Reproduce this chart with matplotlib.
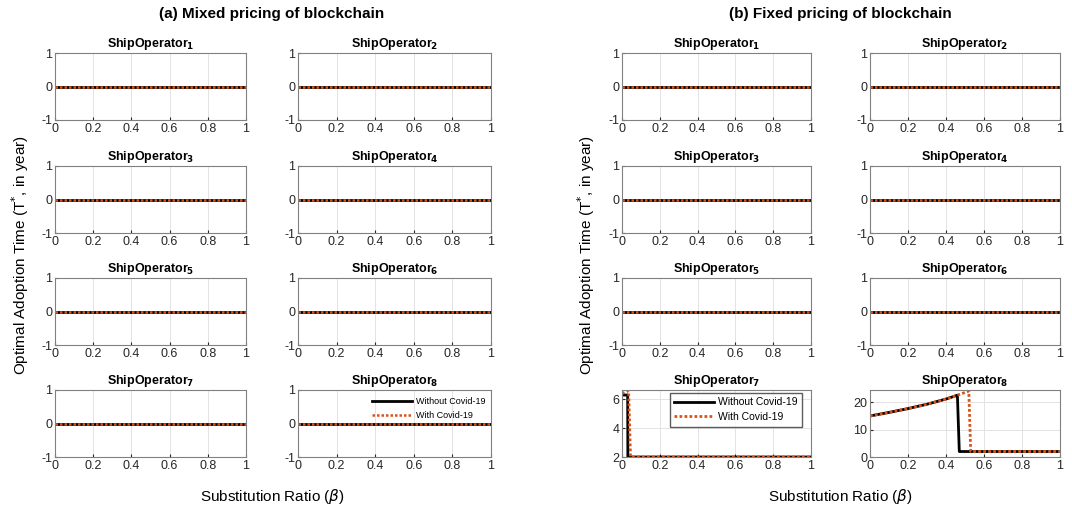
import matplotlib
matplotlib.use("Agg")
import matplotlib.pyplot as plt
import numpy as np

plt.rcParams['font.family'] = ['Liberation Sans', 'DejaVu Sans']
plt.rcParams['axes.unicode_minus'] = False

W, H = 1072, 518
titles = ["(a) Mixed pricing of blockchain", "(b) Fixed pricing of blockchain"]
operators = [f"ShipOperator$_{{\\mathbf{{{i}}}}}$" for i in range(1, 9)]
xticks = [0, 0.2, 0.4, 0.6, 0.8, 1]
legend_labels = ["Without Covid-19", "With Covid-19"]

# zero series (all operators in (a), operators 1-6 in (b))
beta_flat = [0, 1]
zero_vals = [0, 0]

# (b) operator 7
op7_x_without = [0, 0.03, 0.031, 1]
op7_y_without = [6.3, 6.3, 2.0, 2.0]
op7_x_with = [0, 0.035, 0.045, 1]
op7_y_with = [6.4, 6.6, 2.0, 2.0]

# (b) operator 8
op8_x_without = [0, 0.1, 0.2, 0.3, 0.4, 0.46, 0.47, 1]
op8_y_without = [15.0, 16.3, 17.7, 19.3, 21.2, 22.6, 2.0, 2.0]
op8_x_with = [0, 0.1, 0.2, 0.3, 0.4, 0.46, 0.52, 0.53, 1]
op8_y_with = [15.0, 16.3, 17.7, 19.3, 21.2, 22.6, 24.1, 2.0, 2.0]

BLACK = "black"
RED = "#D95319"
DOT = (0, (1, 0.8))

fig = plt.figure(figsize=(W / 100, H / 100), dpi=100)

col_px = [[(55, 246), (298, 491)], [(622, 811), (870, 1060)]]
row_tops = [53, 166, 278, 390]
row_h = 67


def add_ax(x0, x1, top):
    return fig.add_axes([x0 / W, 1 - (top + row_h) / H, (x1 - x0) / W, row_h / H])


def style(ax):
    ax.set_xlim(0, 1)
    ax.set_xticks(xticks)
    ax.set_xticklabels(["0", "0.2", "0.4", "0.6", "0.8", "1"])
    ax.tick_params(labelsize=9, colors="#262626", length=2, direction="in", pad=2)
    for s in ax.spines.values():
        s.set_color("#808080")
        s.set_linewidth(0.8)
    ax.grid(True, color="#e3e3e3", linewidth=0.7)
    ax.set_axisbelow(True)


for g in range(2):
    for k in range(8):
        r, c = divmod(k, 2)
        x0, x1 = col_px[g][c]
        ax = add_ax(x0, x1, row_tops[r])
        style(ax)
        ax.set_title(operators[k], fontsize=9, fontweight="bold", pad=4)
        if g == 1 and k == 6:
            l1, = ax.plot(op7_x_without, op7_y_without, color=BLACK, lw=2)
            l2, = ax.plot(op7_x_with, op7_y_with, color=RED, lw=2, ls=DOT)
            ax.set_ylim(2, 6.65)
            ax.set_yticks([2, 4, 6])
            ax.legend([l1, l2], legend_labels, loc="upper right", fontsize=7.5,
                      frameon=True, fancybox=False, edgecolor="#333333",
                      bbox_to_anchor=(0.955, 0.96), handlelength=3.8,
                      handletextpad=0.4, borderpad=0.45, labelspacing=0.45,
                      borderaxespad=0)
        elif g == 1 and k == 7:
            ax.plot(op8_x_without, op8_y_without, color=BLACK, lw=2)
            ax.plot(op8_x_with, op8_y_with, color=RED, lw=2, ls=DOT)
            ax.set_ylim(0, 24.5)
            ax.set_yticks([0, 10, 20])
        else:
            l1, = ax.plot(beta_flat, zero_vals, color=BLACK, lw=2)
            l2, = ax.plot(beta_flat, zero_vals, color=RED, lw=1.8, ls=DOT)
            ax.set_ylim(-1, 1)
            ax.set_yticks([-1, 0, 1])
            if g == 0 and k == 7:
                ax.legend([l1, l2], legend_labels, loc="upper right", fontsize=6.5,
                          frameon=False, handlelength=4.5, handletextpad=0.4,
                          borderpad=0.2, labelspacing=0.5,
                          bbox_to_anchor=(0.98, 0.92), borderaxespad=0)

# group titles and labels
centers = [272 / W, 840 / W]
ylab_x = [20 / W, 586 / W]
for g in range(2):
    fig.text(centers[g], 1 - 14 / H, titles[g], ha="center", va="center",
             fontsize=11, fontweight="bold")
    fig.text(centers[g], 1 - 497 / H, r"Substitution Ratio ($\beta$)", ha="center",
             va="center", fontsize=11)
    fig.text(ylab_x[g], 1 - 255 / H, r"Optimal Adoption Time (T$^{*}$, in year)",
             ha="center", va="center", rotation=90, fontsize=11)

fig.savefig("out.png", dpi=100)
